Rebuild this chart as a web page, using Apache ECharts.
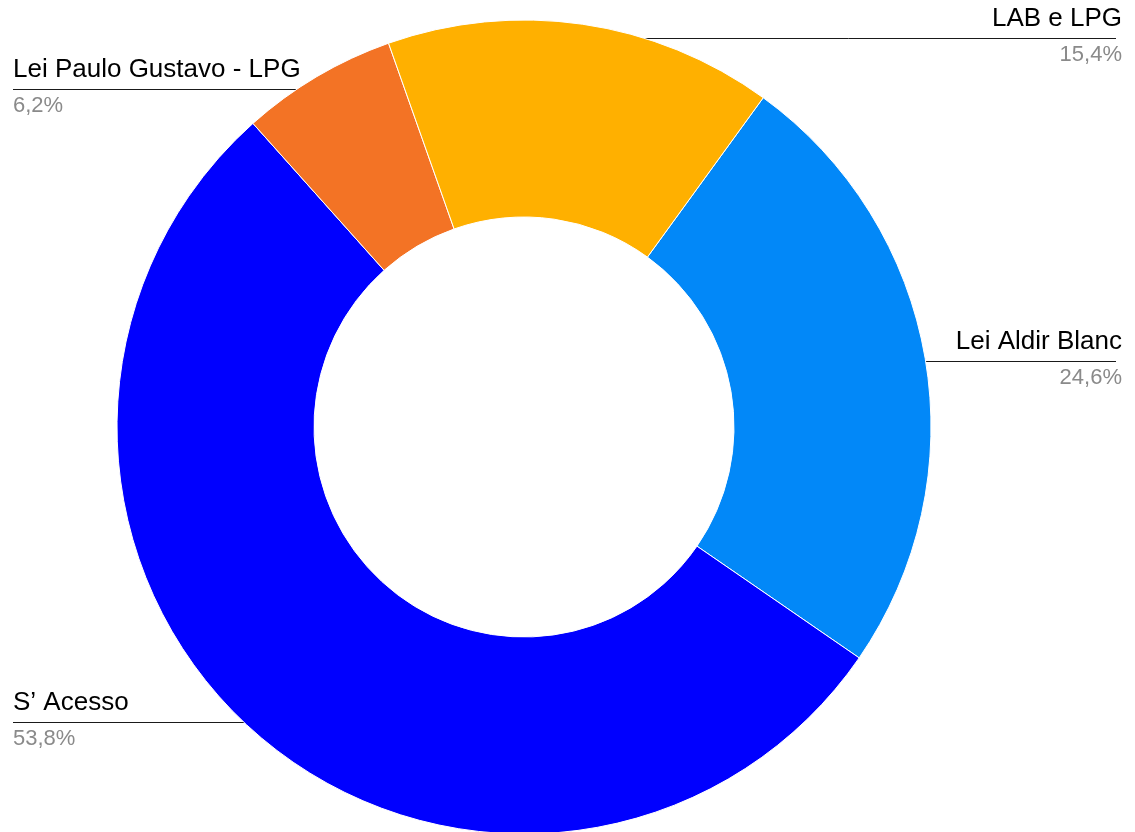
<!DOCTYPE html>
<html>
<head>
<meta charset="utf-8">
<script src="https://cdn.jsdelivr.net/npm/echarts@6/dist/echarts.min.js"></script>
<style>
	html, body { margin: 0; padding: 0; background: #fff; }
	#chart { width: 1135px; height: 832px; }
</style>
</head>
<body>
<div id="chart"></div>
<script>
var categories = ['Lei Aldir Blanc', 'S\u2019 Acesso', 'Lei Paulo Gustavo - LPG', 'LAB e LPG'];
var shares = [24.6, 53.8, 6.2, 15.4];
var colors = ['#0288F8', '#0000FF', '#F37325', '#FFB000'];

var chart = echarts.init(document.getElementById('chart'));

var W = 1135, cx = 524, cy = 427, edge = 13;
var anchorR = 393;   // where the leader line starts, inside the slice
var nameH = 30, pctH = 42;

chart.setOption({
	animation: false,
	color: colors,
	textStyle: { fontFamily: 'Liberation Sans, Arial, sans-serif' },
	series: [{
		type: 'pie',
		center: [cx, cy],
		radius: [210, 407],
		startAngle: 54,
		clockwise: true,
		avoidLabelOverlap: false,
		itemStyle: { borderColor: '#fff', borderWidth: 1 },
		label: {
			position: 'outer',
			padding: 0,
			formatter: function (p) {
				return '{name|' + p.name + '}\n{pct|' + p.value.toFixed(1).replace('.', ',') + '%}';
			},
			rich: {
				name: { fontSize: 26, lineHeight: nameH, color: '#000' },
				pct: { fontSize: 22, lineHeight: pctH, color: '#8a8a8a' }
			}
		},
		labelLine: {
			show: true,
			length: 10,
			length2: 10,
			lineStyle: { color: '#1a1a1a', width: 1 }
		},
		// Google style: horizontal leader line, name above it, share below it
		labelLayout: function (params) {
			var p0 = params.labelLinePoints[0];
			var dx = p0[0] - cx, dy = p0[1] - cy;
			var r = Math.sqrt(dx * dx + dy * dy);
			var ax = cx + dx * anchorR / r;
			var ay = Math.round(cy + dy * anchorR / r) + 0.5;
			var isLeft = ax < cx;
			var tx = isLeft ? edge : W - edge;
			return {
				x: tx,
				y: ay - 35,
				align: isLeft ? 'left' : 'right',
				verticalAlign: 'top',
				labelLinePoints: [[ax, ay], [ax, ay], [isLeft ? edge : W - edge - 6, ay]]
			};
		},
		data: categories.map(function (c, i) {
			return { name: c, value: shares[i] };
		})
	}]
});
</script>
</body>
</html>
